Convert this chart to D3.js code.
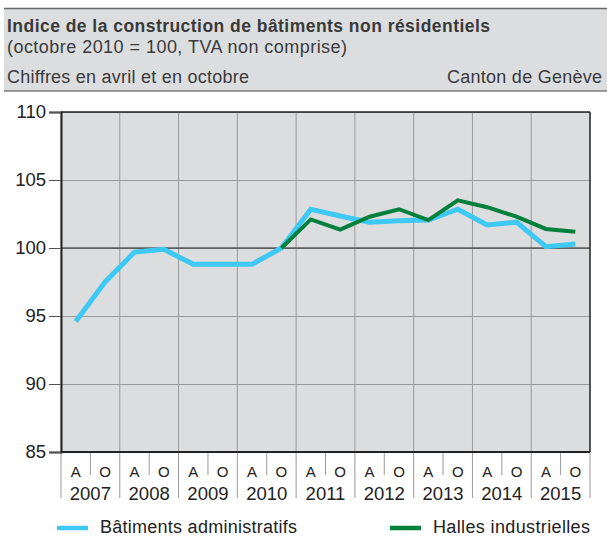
<!DOCTYPE html>
<html>
<head>
<meta charset="utf-8">
<script src="https://cdn.jsdelivr.net/npm/d3@7"></script>
<style>
  body { margin: 0; background: #fff; }
  svg text { font-family: "Liberation Sans", Arial, sans-serif; fill: #222; }
</style>
</head>
<body>
<svg id="chart" width="607" height="536"></svg>
<script>
// data
var years = ["2007", "2008", "2009", "2010", "2011", "2012", "2013", "2014", "2015"];
var halves = ["A", "O"];
var yTicks = [85, 90, 95, 100, 105, 110];
var admin = [94.6, 97.5, 99.7, 99.9, 98.8, 98.8, 98.8, 100.0, 102.85, 102.35, 101.9, 102.0, 102.05, 102.85, 101.7, 101.9, 100.1, 100.3];
var halles = [null, null, null, null, null, null, null, 100.0, 102.1, 101.35, 102.3, 102.85, 102.05, 103.5, 103.0, 102.3, 101.4, 101.2];

var periods = [];
years.forEach(function(y) { halves.forEach(function(h) { periods.push(y + h); }); });

var margin = { top: 112, left: 61, right: 17, bottom: 84 };
var W = 607, H = 536;
var width = W - margin.left - margin.right;
var height = H - margin.top - margin.bottom;

var svg = d3.select("#chart");

// header box
svg.append("rect").attr("x", 4).attr("y", 8).attr("width", 603).attr("height", 83).attr("fill", "#dcdddf");
svg.append("line").attr("x1", 4).attr("x2", 607).attr("y1", 8.5).attr("y2", 8.5).attr("stroke", "#666").attr("stroke-width", 1.5);
svg.append("line").attr("x1", 4).attr("x2", 607).attr("y1", 91).attr("y2", 91).attr("stroke", "#444").attr("stroke-width", 1.2);
svg.append("text").attr("x", 7).attr("y", 32).style("font-size", "17.5px").style("font-weight", "bold").style("fill", "#3a3a3a")
  .attr("textLength", 483).attr("lengthAdjust", "spacing")
  .text("Indice de la construction de bâtiments non résidentiels");
svg.append("text").attr("x", 7).attr("y", 53).style("font-size", "18px").style("fill", "#3a3a3a")
  .attr("textLength", 340).attr("lengthAdjust", "spacing")
  .text("(octobre 2010 = 100, TVA non comprise)");
svg.append("text").attr("x", 7).attr("y", 83).style("font-size", "18px").style("fill", "#3a3a3a")
  .attr("textLength", 242).attr("lengthAdjust", "spacing")
  .text("Chiffres en avril et en octobre");
svg.append("text").attr("x", 447).attr("y", 83).style("font-size", "18px").style("fill", "#3a3a3a")
  .attr("textLength", 155).attr("lengthAdjust", "spacing")
  .text("Canton de Genève");

var g = svg.append("g").attr("transform", "translate(" + margin.left + "," + margin.top + ")");

var x = d3.scaleBand().domain(periods).range([0, width]);
var xYear = d3.scaleBand().domain(years).range([0, width]);
var y = d3.scaleLinear().domain([85, 110]).range([height, 0]);

g.append("rect").attr("width", width).attr("height", height).attr("fill", "#dcdddf");

// horizontal grid
g.append("g")
  .call(d3.axisLeft(y).tickValues(yTicks).tickSize(-width).tickFormat(""))
  .call(function(a) { a.select(".domain").remove(); })
  .selectAll("line").attr("stroke", "#999").attr("stroke-width", 1);

// vertical year lines, extended below the plot as separators
g.selectAll(".yearline")
  .data(years)
  .enter()
  .append("line")
  .attr("class", "yearline")
  .attr("x1", function(d) { return xYear(d); })
  .attr("x2", function(d) { return xYear(d); })
  .attr("y1", 0)
  .attr("y2", height + 46)
  .attr("stroke", "#999")
  .attr("stroke-width", 1);
g.append("line").attr("x1", width).attr("x2", width).attr("y1", height).attr("y2", height + 46)
  .attr("stroke", "#999").attr("stroke-width", 1);

// A/O separators under the axis
g.selectAll(".halfsep")
  .data(years)
  .enter()
  .append("line")
  .attr("class", "halfsep")
  .attr("x1", function(d) { return xYear(d) + xYear.bandwidth() / 2; })
  .attr("x2", function(d) { return xYear(d) + xYear.bandwidth() / 2; })
  .attr("y1", height)
  .attr("y2", height + 23)
  .attr("stroke", "#999")
  .attr("stroke-width", 1);

// 100 line
g.append("line").attr("x1", 0).attr("x2", width).attr("y1", y(100)).attr("y2", y(100))
  .attr("stroke", "#222").attr("stroke-width", 1.2);

// frame
g.append("line").attr("x1", 0).attr("x2", width).attr("y1", 0).attr("y2", 0).attr("stroke", "#222").attr("stroke-width", 1.5);
g.append("line").attr("x1", width).attr("x2", width).attr("y1", 0).attr("y2", height).attr("stroke", "#222").attr("stroke-width", 1.5);

// y axis
var yAxis = g.append("g")
  .call(d3.axisLeft(y).tickValues(yTicks).tickSize(12).tickPadding(3));
yAxis.select(".domain").attr("stroke", "#222").attr("stroke-width", 2);
yAxis.selectAll(".tick line").attr("stroke", "#555");
yAxis.selectAll("text").style("font-size", "18.5px").style("fill", "#222");

// bottom axis line
g.append("line").attr("x1", 0).attr("x2", width).attr("y1", height).attr("y2", height).attr("stroke", "#222").attr("stroke-width", 2);

// A / O labels
g.selectAll(".half")
  .data(periods)
  .enter()
  .append("text")
  .attr("x", function(d) { return x(d) + x.bandwidth() / 2; })
  .attr("y", height + 25)
  .attr("text-anchor", "middle")
  .style("font-size", "15px")
  .text(function(d) { return d.slice(4); });

// year labels
g.selectAll(".year")
  .data(years)
  .enter()
  .append("text")
  .attr("x", function(d) { return xYear(d) + xYear.bandwidth() / 2; })
  .attr("y", height + 48)
  .attr("text-anchor", "middle")
  .style("font-size", "18.5px")
  .text(function(d) { return d; });

// lines
var line = d3.line()
  .defined(function(d) { return d.v != null; })
  .x(function(d) { return x(d.p) + x.bandwidth() / 2; })
  .y(function(d) { return y(d.v); });

g.append("path")
  .datum(periods.map(function(p, i) { return { p: p, v: admin[i] }; }))
  .attr("d", line)
  .attr("fill", "none")
  .attr("stroke", "#3ec8f4")
  .attr("stroke-width", 5);

g.append("path")
  .datum(periods.map(function(p, i) { return { p: p, v: halles[i] }; }))
  .attr("d", line)
  .attr("fill", "none")
  .attr("stroke", "#00803c")
  .attr("stroke-width", 4);

// legend
var legend = [
  { name: "Bâtiments administratifs", color: "#3ec8f4", x: 57, len: 197 },
  { name: "Halles industrielles", color: "#00803c", x: 390, len: 157 }
];
legend.forEach(function(l) {
  svg.append("line").attr("x1", l.x).attr("x2", l.x + 31).attr("y1", 528).attr("y2", 528)
    .attr("stroke", l.color).attr("stroke-width", 4.5);
  svg.append("text").attr("x", l.x + 43).attr("y", 533).style("font-size", "18px")
    .attr("textLength", l.len).attr("lengthAdjust", "spacing").text(l.name);
});
</script>
</body>
</html>
